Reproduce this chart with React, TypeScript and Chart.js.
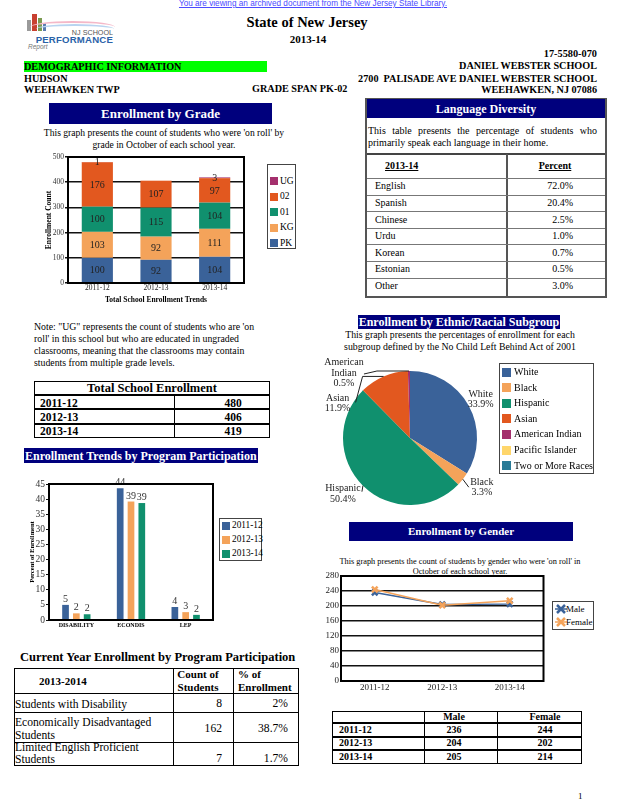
import React, { useEffect, useRef } from "react";
import { Chart, registerables } from "chart.js";

Chart.register(...registerables);

const SERIF = '"Liberation Serif", "Times New Roman", Times, serif';
const SANS = '"Liberation Sans", Arial, sans-serif';
Chart.defaults.font.family = SERIF;
Chart.defaults.color = "#000";

const C_BLUE = "#3a6299";
const C_LORANGE = "#f4a35a";
const C_GREEN = "#10906e";
const C_RORANGE = "#e2581f";
const C_MAGENTA = "#a42f6d";
const C_YELLOW = "#ffd66b";
const C_TEAL = "#2a7b97";
const NAVY = "#00007d";

// ---------------- data ----------------
const schoolYears = ["2011-12", "2012-13", "2013-14"];
const enrollPK = [100, 92, 104];
const enrollKG = [103, 92, 111];
const enroll01 = [100, 115, 104];
const enroll02 = [176, 107, 97];
const enrollUG = [1, 0, 3];
const totalEnrollment = [480, 406, 419];

const languageNames = ["English", "Spanish", "Chinese", "Urdu", "Korean", "Estonian", "Other"];
const languagePercents = ["72.0%", "20.4%", "2.5%", "1.0%", "0.7%", "0.5%", "3.0%"];

const programCategories = ["DISABILITY", "ECONDIS", "LEP"];
const program2011 = [5.0, 43.6, 4.3];
const program2012 = [2.2, 39.2, 2.6];
const program2013 = [1.9, 38.7, 1.7];

const currentPrograms = [
  ["Students with Disability"],
  ["Economically Disadvantaged", "Students"],
  ["Limited English Proficient", "Students"],
];
const currentCounts = [8, 162, 7];
const currentPercents = ["2%", "38.7%", "1.7%"];

const ethnicGroups = ["White", "Black", "Hispanic", "Asian", "American Indian", "Pacific Islander", "Two or More Races"];
const ethnicPercents = [33.9, 3.3, 50.4, 11.9, 0.5, 0, 0];
const ethnicColors = [C_BLUE, C_LORANGE, C_GREEN, C_RORANGE, C_MAGENTA, C_YELLOW, C_TEAL];

const maleCounts = [236, 204, 205];
const femaleCounts = [244, 202, 214];

// ---------------- helpers ----------------
type Box = { L: number; T: number; W: number; H: number };
type Area = { l: number; t: number; r: number; b: number };
function fit(box: Box, area: Area) {
  return {
    padding: { left: 0, top: area.t - box.T, right: box.L + box.W - area.r, bottom: 0 },
    yFit: (s: any) => { s.width = area.l - box.L; },
    xFit: (s: any) => { s.height = box.T + box.H - area.b; },
  };
}

const framePlugin = {
  id: "frame",
  afterDraw(chart: any, _a: any, opts: any) {
    const { ctx, chartArea: a } = chart;
    ctx.save();
    ctx.strokeStyle = "#000";
    ctx.lineWidth = opts.width || 2;
    ctx.strokeRect(a.left, a.top, a.right - a.left, a.bottom - a.top);
    ctx.restore();
  },
};

const barValuePlugin = {
  id: "barValues",
  afterDatasetsDraw(chart: any, _a: any, opts: any) {
    const ctx = chart.ctx;
    ctx.save();
    ctx.font = opts.font;
    ctx.fillStyle = opts.color || "#222";
    ctx.textAlign = "center";
    chart.data.datasets.forEach((ds: any, i: number) => {
      const meta = chart.getDatasetMeta(i);
      meta.data.forEach((el: any, j: number) => {
        const v = ds.data[j];
        if (!v) return;
        const text = String(Math.round(v));
        if (opts.position === "center") {
          ctx.textBaseline = "middle";
          ctx.fillText(text, el.x, (el.y + el.base) / 2 + 0.5);
        } else {
          ctx.textBaseline = "alphabetic";
          ctx.fillText(text, el.x, el.y - (opts.gap || 3));
        }
      });
    });
    ctx.restore();
  },
};

const pieLabelPlugin = {
  id: "pieLabels",
  afterDraw(chart: any, _a: any, opts: any) {
    const ctx = chart.ctx;
    const meta = chart.getDatasetMeta(0);
    const values = chart.data.datasets[0].data;
    const labels = chart.data.labels;
    ctx.save();
    ctx.font = opts.font;
    ctx.fillStyle = "#222";
    ctx.strokeStyle = "#222";
    ctx.lineWidth = 1;
    meta.data.forEach((arc: any, i: number) => {
      const v = values[i];
      const place = opts.places[i];
      if (!v || !place) return;
      const mid = (arc.startAngle + arc.endAngle) / 2;
      const ex = arc.x + arc.outerRadius * Math.cos(mid);
      const ey = arc.y + arc.outerRadius * Math.sin(mid);
      if (place.line) {
        ctx.beginPath();
        ctx.moveTo(ex, ey);
        place.line.forEach((p: number[]) => ctx.lineTo(ex + p[0], ey + p[1]));
        ctx.stroke();
      }
      const name: string = labels[i];
      const lines = [...(place.wrap ? name.split(" ") : [name]), v.toFixed(1) + "%"];
      ctx.textAlign = "center";
      ctx.textBaseline = "middle";
      const cx = ex + place.dx;
      const cy = ey + place.dy;
      lines.forEach((t: string, k: number) => ctx.fillText(t, cx, cy + (k - (lines.length - 1) / 2) * opts.lineHeight));
    });
    ctx.restore();
  },
};

function ChartCanvas({ box, make }: { box: Box; make: () => any }) {
  const ref = useRef<HTMLCanvasElement>(null);
  useEffect(() => {
    const chart = new Chart(ref.current as HTMLCanvasElement, make());
    return () => chart.destroy();
  }, []);
  return (
    <canvas
      ref={ref}
      width={box.W}
      height={box.H}
      style={{ position: "absolute", left: box.L, top: box.T, width: box.W, height: box.H }}
    />
  );
}

type TP = {
  x: number; y: number; s?: number; b?: boolean; a?: "l" | "c" | "r"; w?: number;
  c?: string; f?: string; u?: boolean; children: React.ReactNode; st?: React.CSSProperties;
};
function T({ x, y, s = 10, b = false, a = "l", w = 300, c = "#000", f = SERIF, u = false, children, st }: TP) {
  const lh = Math.round(s * 1.2);
  let left = x;
  if (a === "c") left = x - w / 2;
  if (a === "r") left = x - w;
  return (
    <div
      style={{
        position: "absolute", left, top: y - lh / 2, width: w, lineHeight: lh + "px", fontSize: s,
        fontWeight: b ? "bold" : "normal", fontFamily: f, color: c,
        textAlign: a === "l" ? "left" : a === "c" ? "center" : "right",
        whiteSpace: "nowrap", textDecoration: u ? "underline" : "none", ...st,
      }}
    >
      {children}
    </div>
  );
}

function R({ x, y, w, h, bg, st }: { x: number; y: number; w: number; h: number; bg?: string; st?: React.CSSProperties }) {
  return <div style={{ position: "absolute", left: x, top: y, width: w, height: h, background: bg, boxSizing: "border-box", ...st }} />;
}

function Swatch({ x, y, color, size = 8 }: { x: number; y: number; color: string; size?: number }) {
  return <R x={x} y={y - size / 2} w={size} h={size} bg={color} />;
}

// ---------------- chart configs ----------------
const gradeBox: Box = { L: 45, T: 150, W: 203, H: 155 };
const gradeArea: Area = { l: 68, t: 157, r: 244, b: 283 };
function makeGrade() {
  const f = fit(gradeBox, gradeArea);
  const mk = (label: string, data: number[], color: string) => ({
    label, data, backgroundColor: color, borderWidth: 0, barPercentage: 0.9, categoryPercentage: 0.59,
  });
  return {
    type: "bar",
    data: {
      labels: schoolYears,
      datasets: [
        mk("PK", enrollPK, C_BLUE),
        mk("KG", enrollKG, C_LORANGE),
        mk("01", enroll01, C_GREEN),
        mk("02", enroll02, C_RORANGE),
        mk("UG", enrollUG, C_MAGENTA),
      ],
    },
    options: {
      responsive: false,
      animation: false,
      layout: { padding: f.padding },
      plugins: {
        legend: { display: false },
        tooltip: { enabled: false },
        frame: { width: 2 },
        barValues: { font: `10px ${SERIF}`, position: "center", color: "#222" },
      },
      scales: {
        x: {
          stacked: true,
          afterFit: f.xFit,
          grid: { display: false, drawTicks: false },
          border: { display: false },
          ticks: { font: { size: 7.5 }, padding: 1, color: "#222" },
          title: { display: true, text: "Total School Enrollment Trends", font: { size: 7.5, weight: "bold" }, padding: 0 },
        },
        y: {
          stacked: true,
          min: 0,
          max: 500,
          afterFit: f.yFit,
          ticks: { stepSize: 100, font: { size: 7.5 }, padding: 1, color: "#333" },
          grid: { color: "#111", lineWidth: 1.5, tickLength: 3 },
          border: { display: false },
          title: { display: true, text: "Enrollment Count", font: { size: 7.5, weight: "bold" }, padding: 0 },
        },
      },
    },
    plugins: [framePlugin, barValuePlugin],
  };
}

const progBox: Box = { L: 28, T: 476, W: 188, H: 156 };
const progArea: Area = { l: 49, t: 484, r: 213, b: 620 };
function makeProgram() {
  const f = fit(progBox, progArea);
  const mk = (label: string, data: number[], color: string) => ({
    label, data, backgroundColor: color, borderWidth: 0, barPercentage: 0.62, categoryPercentage: 0.593,
  });
  return {
    type: "bar",
    data: {
      labels: programCategories,
      datasets: [mk("2011-12", program2011, C_BLUE), mk("2012-13", program2012, C_LORANGE), mk("2013-14", program2013, C_GREEN)],
    },
    options: {
      responsive: false,
      animation: false,
      layout: { padding: f.padding },
      plugins: {
        legend: { display: false },
        tooltip: { enabled: false },
        frame: { width: 2 },
        barValues: { font: `10px ${SERIF}`, position: "top", gap: 3, color: "#333" },
      },
      scales: {
        x: {
          afterFit: f.xFit,
          grid: { display: false, drawTicks: false },
          border: { display: false },
          ticks: { font: { size: 6, weight: "bold" }, padding: 2 },
        },
        y: {
          min: 0,
          max: 45,
          afterFit: f.yFit,
          ticks: { stepSize: 5, font: { size: 9.5 }, padding: 1, color: "#333" },
          grid: { drawOnChartArea: false, color: "#111", tickLength: 3 },
          border: { display: false },
          title: { display: true, text: "Percent of Enrollment", font: { size: 6.5, weight: "bold" }, padding: 0 },
        },
      },
    },
    plugins: [framePlugin, barValuePlugin],
  };
}

const pieBox: Box = { L: 322, T: 355, W: 178, H: 152 };
const piePlaces = [
  { dx: 12, dy: -6 },
  { dx: 19, dy: 8, line: [[6, 8]] },
  { dx: -20, dy: 8, line: [[-1, 6]] },
  { dx: -46, dy: 27, line: [[-21, 0], [-28, 26]] },
  { dx: -65, dy: 2, wrap: true, line: [[-32, 0], [-45, 3]] },
  null,
  null,
];
function makePie() {
  return {
    type: "pie",
    data: {
      labels: ethnicGroups,
      datasets: [{ data: ethnicPercents, backgroundColor: ethnicColors, borderWidth: 0, hoverOffset: 0 }],
    },
    options: {
      responsive: false,
      animation: false,
      layout: { padding: { left: 21, top: 16, right: 23, bottom: 2 } },
      plugins: {
        legend: { display: false },
        tooltip: { enabled: false },
        pieLabels: { font: `10px ${SERIF}`, lineHeight: 10.5, places: piePlaces },
      },
    },
    plugins: [pieLabelPlugin],
  };
}

const lineBox: Box = { L: 322, T: 568, W: 228, H: 126 };
const lineArea: Area = { l: 341, t: 576, r: 547, b: 681 };
function makeLine() {
  const f = fit(lineBox, lineArea);
  const mk = (label: string, data: number[], color: string, order: number) => ({
    label, data, borderColor: color, backgroundColor: color, borderWidth: 1.5, order,
    pointStyle: "crossRot", pointRadius: 4, pointBorderWidth: 2.5, pointBorderColor: color, tension: 0,
  });
  return {
    type: "line",
    data: {
      labels: schoolYears,
      datasets: [mk("Male", maleCounts, C_BLUE, 2), mk("Female", femaleCounts, C_LORANGE, 1)],
    },
    options: {
      responsive: false,
      animation: false,
      layout: { padding: f.padding },
      plugins: { legend: { display: false }, tooltip: { enabled: false }, frame: { width: 2 } },
      scales: {
        x: {
          offset: true,
          afterFit: f.xFit,
          grid: { display: false, drawTicks: false },
          border: { display: false },
          ticks: { font: { size: 9 }, padding: 1, color: "#222" },
        },
        y: {
          min: 0,
          max: 280,
          afterFit: f.yFit,
          ticks: { stepSize: 40, font: { size: 9 }, padding: 2, color: "#222" },
          grid: { color: "#111", lineWidth: 1.5, drawTicks: false },
          border: { display: false },
        },
      },
    },
    plugins: [framePlugin],
  };
}

// ---------------- page ----------------
function NavyBar({ x, y, w, h, text, s = 12, align = "c" }: { x: number; y: number; w: number; h: number; text: string; s?: number; align?: "l" | "c" }) {
  return (
    <>
      <R x={x} y={y} w={w} h={h} bg={NAVY} />
      {align === "c" ? (
        <T x={x + w / 2} y={y + h / 2} s={s} b a="c" w={w + 20} c="#fff">{text}</T>
      ) : (
        <T x={x + 1} y={y + h / 2} s={s} b c="#fff">{text}</T>
      )}
    </>
  );
}

export default function App() {
  const langTop = 178;
  const langRow = 16.6;
  return (
    <div style={{ position: "absolute", left: 0, top: 0, width: 618, height: 800, background: "#fff", overflow: "hidden", fontFamily: SERIF }}>
      {/* top link */}
      <T x={313} y={4} s={8.2} a="c" w={400} f={SANS} c="#4b4bff" u>
        You are viewing an archived document from the New Jersey State Library.
      </T>

      {/* logo */}
      <R x={27} y={20} w={4} h={11} bg="#9a9a9a" />
      <R x={32} y={14} w={5} h={17} bg="#c84030" />
      <R x={38} y={18} w={4} h={13} bg="#7a9a50" />
      <R x={43} y={23} w={3} h={8} bg="#5a7ab0" />
      <div style={{ position: "absolute", left: 30, top: 21, width: 85, height: 10, borderTop: "2px solid #f4b8c8", borderRadius: "50% 50% 0 0" }} />
      <div style={{ position: "absolute", left: 36, top: 24, width: 78, height: 8, borderTop: "2px solid #b8d4f0", borderRadius: "50% 50% 0 0" }} />
      <T x={113} y={32} s={7.2} a="r" w={60} f={SANS} c="#555">NJ SCHOOL</T>
      <T x={113} y={39.5} s={9.6} a="r" w={100} b f={SANS} c="#2a62a8" st={{ letterSpacing: 0.2 }}>PERFORMANCE</T>
      <T x={28} y={47} s={6.5} f={SANS} c="#777" st={{ fontStyle: "italic" }}>Report</T>

      <T x={307} y={22} s={14.5} b a="c">State of New Jersey</T>
      <T x={308} y={39} s={11} b a="c">2013-14</T>
      <T x={597} y={54} s={10.3} b a="r">17-5580-070</T>
      <R x={24} y={61} w={243} h={11} bg="#00ff00" />
      <T x={24} y={67} s={10.2} b>DEMOGRAPHIC INFORMATION</T>
      <T x={597} y={66} s={10.2} b a="r">DANIEL WEBSTER SCHOOL</T>
      <T x={24} y={79} s={10.2} b>HUDSON</T>
      <T x={597} y={79} s={10.2} b a="r">2700&nbsp; PALISADE AVE DANIEL WEBSTER SCHOOL</T>
      <T x={24} y={90} s={10.2} b>WEEHAWKEN TWP</T>
      <T x={252} y={89} s={10.2} b>GRADE SPAN PK-02</T>
      <T x={597} y={90} s={10.2} b a="r">WEEHAWKEN, NJ 07086</T>

      {/* enrollment by grade */}
      <NavyBar x={49} y={103} w={223} h={21} text="Enrollment by Grade" s={13} />
      <T x={164} y={133} s={9.6} a="c">This graph presents the count of students who were 'on roll' by</T>
      <T x={164} y={145} s={9.6} a="c">grade in October of each school year.</T>
      <ChartCanvas box={gradeBox} make={makeGrade} />
      <R x={267} y={164} w={29} h={85} st={{ border: "1.5px solid #444" }} />
      {[
        ["UG", C_MAGENTA],
        ["02", C_RORANGE],
        ["01", C_GREEN],
        ["KG", C_LORANGE],
        ["PK", C_BLUE],
      ].map(([n, c], i) => (
        <React.Fragment key={n}>
          <Swatch x={270} y={181 + i * 15.5} color={c} />
          <T x={280} y={181 + i * 15.5} s={9.5}>{n}</T>
        </React.Fragment>
      ))}

      {/* language diversity */}
      <R x={365} y={98} w={242} h={200} st={{ border: "2px solid #555" }} />
      <NavyBar x={367} y={99} w={238} h={19} text="Language Diversity" s={12} />
      <div style={{ position: "absolute", left: 368, top: 125, width: 229, fontSize: 10, lineHeight: "11.5px", textAlign: "justify", fontFamily: SERIF }}>
        This table presents the percentage of students who primarily speak each language in their home.
      </div>
      <R x={367} y={153} w={238} h={2} bg="#444" />
      <R x={506} y={154} w={1.5} h={143} bg="#555" />
      <T x={385} y={166} s={10} b u>2013-14</T>
      <T x={555} y={166} s={10} b u a="c" w={60}>Percent</T>
      {languageNames.map((n, i) => (
        <React.Fragment key={n}>
          <R x={367} y={langTop + i * langRow} w={238} h={1} bg="#777" />
          <T x={375} y={langTop + i * langRow + 8.3} s={10}>{n}</T>
          <T x={573} y={langTop + i * langRow + 8.3} s={10} a="r" w={60}>{languagePercents[i]}</T>
        </React.Fragment>
      ))}

      {/* note */}
      <T x={34} y={327} s={9.8}>Note: "UG" represents the count of students who are 'on</T>
      <T x={34} y={339} s={9.8}>roll' in this school but who are educated in ungraded</T>
      <T x={34} y={351} s={9.8}>classrooms, meaning that the classrooms may contain</T>
      <T x={34} y={363} s={9.8}>students from multiple grade levels.</T>

      {/* total enrollment table */}
      <R x={34} y={381} w={236} h={57} st={{ border: "1.5px solid #000" }} />
      <T x={152} y={388.5} s={12.5} b a="c">Total School Enrollment</T>
      {schoolYears.map((y, i) => {
        const top = 395 + i * 14.3;
        return (
          <React.Fragment key={y}>
            <R x={34} y={top - 1} w={236} h={2.2} bg="#000" />
            <T x={40} y={top + 7.6} s={11.5} b>{y}</T>
            <T x={233} y={top + 7.6} s={11.5} b a="c" w={60}>{totalEnrollment[i]}</T>
          </React.Fragment>
        );
      })}
      <R x={173.5} y={395} w={1} h={43} bg="#000" />

      {/* program participation */}
      <NavyBar x={24} y={448} w={234} h={15} text="Enrollment Trends by Program Participation" s={12} align="l" />
      <ChartCanvas box={progBox} make={makeProgram} />
      <R x={219} y={518} w={43} h={43} st={{ border: "1.5px solid #444" }} />
      {schoolYears.map((y, i) => (
        <React.Fragment key={y}>
          <Swatch x={222} y={525.5 + i * 14} color={[C_BLUE, C_LORANGE, C_GREEN][i]} />
          <T x={232} y={525.5 + i * 14} s={9.3}>{y}</T>
        </React.Fragment>
      ))}

      {/* current year table */}
      <T x={20} y={657} s={12.5} b>Current Year Enrollment by Program Participation</T>
      <R x={14} y={668} w={285} h={98} st={{ border: "1.5px solid #000" }} />
      <R x={14} y={692.5} w={285} h={1.2} bg="#000" />
      <R x={14} y={711.5} w={285} h={1.2} bg="#000" />
      <R x={14} y={741.5} w={285} h={1.2} bg="#000" />
      <R x={172.5} y={668} w={1.2} h={98} bg="#000" />
      <R x={232.5} y={668} w={1.2} h={98} bg="#000" />
      <T x={39} y={681} s={11} b>2013-2014</T>
      <T x={198} y={674} s={11} b a="c" w={60}>Count of</T>
      <T x={198} y={687} s={11} b a="c" w={60}>Students</T>
      <T x={238} y={674} s={11} b>% of</T>
      <T x={238} y={687} s={11} b>Enrollment</T>
      {currentPrograms.map((lines, i) => {
        const ys = [[705], [723, 736], [748, 760]][i];
        const vy = [704, 729, 759][i];
        return (
          <React.Fragment key={i}>
            {lines.map((l, k) => (
              <T key={k} x={15} y={ys[k]} s={11.6}>{l}</T>
            ))}
            <T x={222} y={vy} s={11.6} a="r" w={50}>{currentCounts[i]}</T>
            <T x={288} y={vy} s={11.6} a="r" w={50}>{currentPercents[i]}</T>
          </React.Fragment>
        );
      })}

      {/* ethnic */}
      <NavyBar x={358} y={315} w={202} h={14} text="Enrollment by Ethnic/Racial Subgroup" s={12} />
      <T x={460} y={335} s={9.8} a="c">This graph presents the percentages of enrollment for each</T>
      <T x={460} y={346.5} s={9.8} a="c">subgroup defined by the No Child Left Behind Act of 2001</T>
      <ChartCanvas box={pieBox} make={makePie} />
      <R x={499} y={363} w={95} h={111} st={{ border: "1.5px solid #444" }} />
      {ethnicGroups.map((g, i) => (
        <React.Fragment key={g}>
          <Swatch x={502} y={372 + i * 15.6} color={ethnicColors[i]} size={9} />
          <T x={514} y={372 + i * 15.6} s={10}>{g}</T>
        </React.Fragment>
      ))}

      {/* gender */}
      <NavyBar x={349} y={522} w={224} h={19} text="Enrollment by Gender" s={11} />
      <T x={460} y={562} s={8.3} a="c">This graph presents the count of students by gender who were 'on roll' in</T>
      <T x={460} y={572} s={8.3} a="c">October of each school year.</T>
      <ChartCanvas box={lineBox} make={makeLine} />
      <R x={552} y={601} w={42} h={29} st={{ border: "1.5px solid #444" }} />
      {[["Male", C_BLUE], ["Female", C_LORANGE]].map(([n, c], i) => (
        <React.Fragment key={n}>
          <svg width="12" height="10" style={{ position: "absolute", left: 555, top: 604 + i * 13 }}>
            <line x1="0" y1="5" x2="12" y2="5" stroke={c} strokeWidth="1.5" />
            <path d="M2 1 L10 9 M10 1 L2 9" stroke={c} strokeWidth="2.5" />
          </svg>
          <T x={566} y={609 + i * 13} s={9}>{n}</T>
        </React.Fragment>
      ))}

      {/* gender table */}
      <R x={332} y={711} w={250} h={53} st={{ border: "1.5px solid #000" }} />
      {[723, 737, 750].map((y) => (
        <R key={y} x={332} y={y - 0.75} w={250} h={1.5} bg="#000" />
      ))}
      <R x={424} y={711} w={1.2} h={53} bg="#000" />
      <R x={497} y={711} w={1.2} h={53} bg="#000" />
      <T x={454} y={717} s={10} b a="c" w={60}>Male</T>
      <T x={545} y={717} s={10} b a="c" w={60}>Female</T>
      {schoolYears.map((y, i) => {
        const cy = 730 + i * 13.4;
        return (
          <React.Fragment key={y}>
            <T x={339} y={cy} s={10} b>{y}</T>
            <T x={454} y={cy} s={10} b a="c" w={60}>{maleCounts[i]}</T>
            <T x={545} y={cy} s={10} b a="c" w={60}>{femaleCounts[i]}</T>
          </React.Fragment>
        );
      })}

      <T x={578} y={796} s={9}>1</T>
    </div>
  );
}
